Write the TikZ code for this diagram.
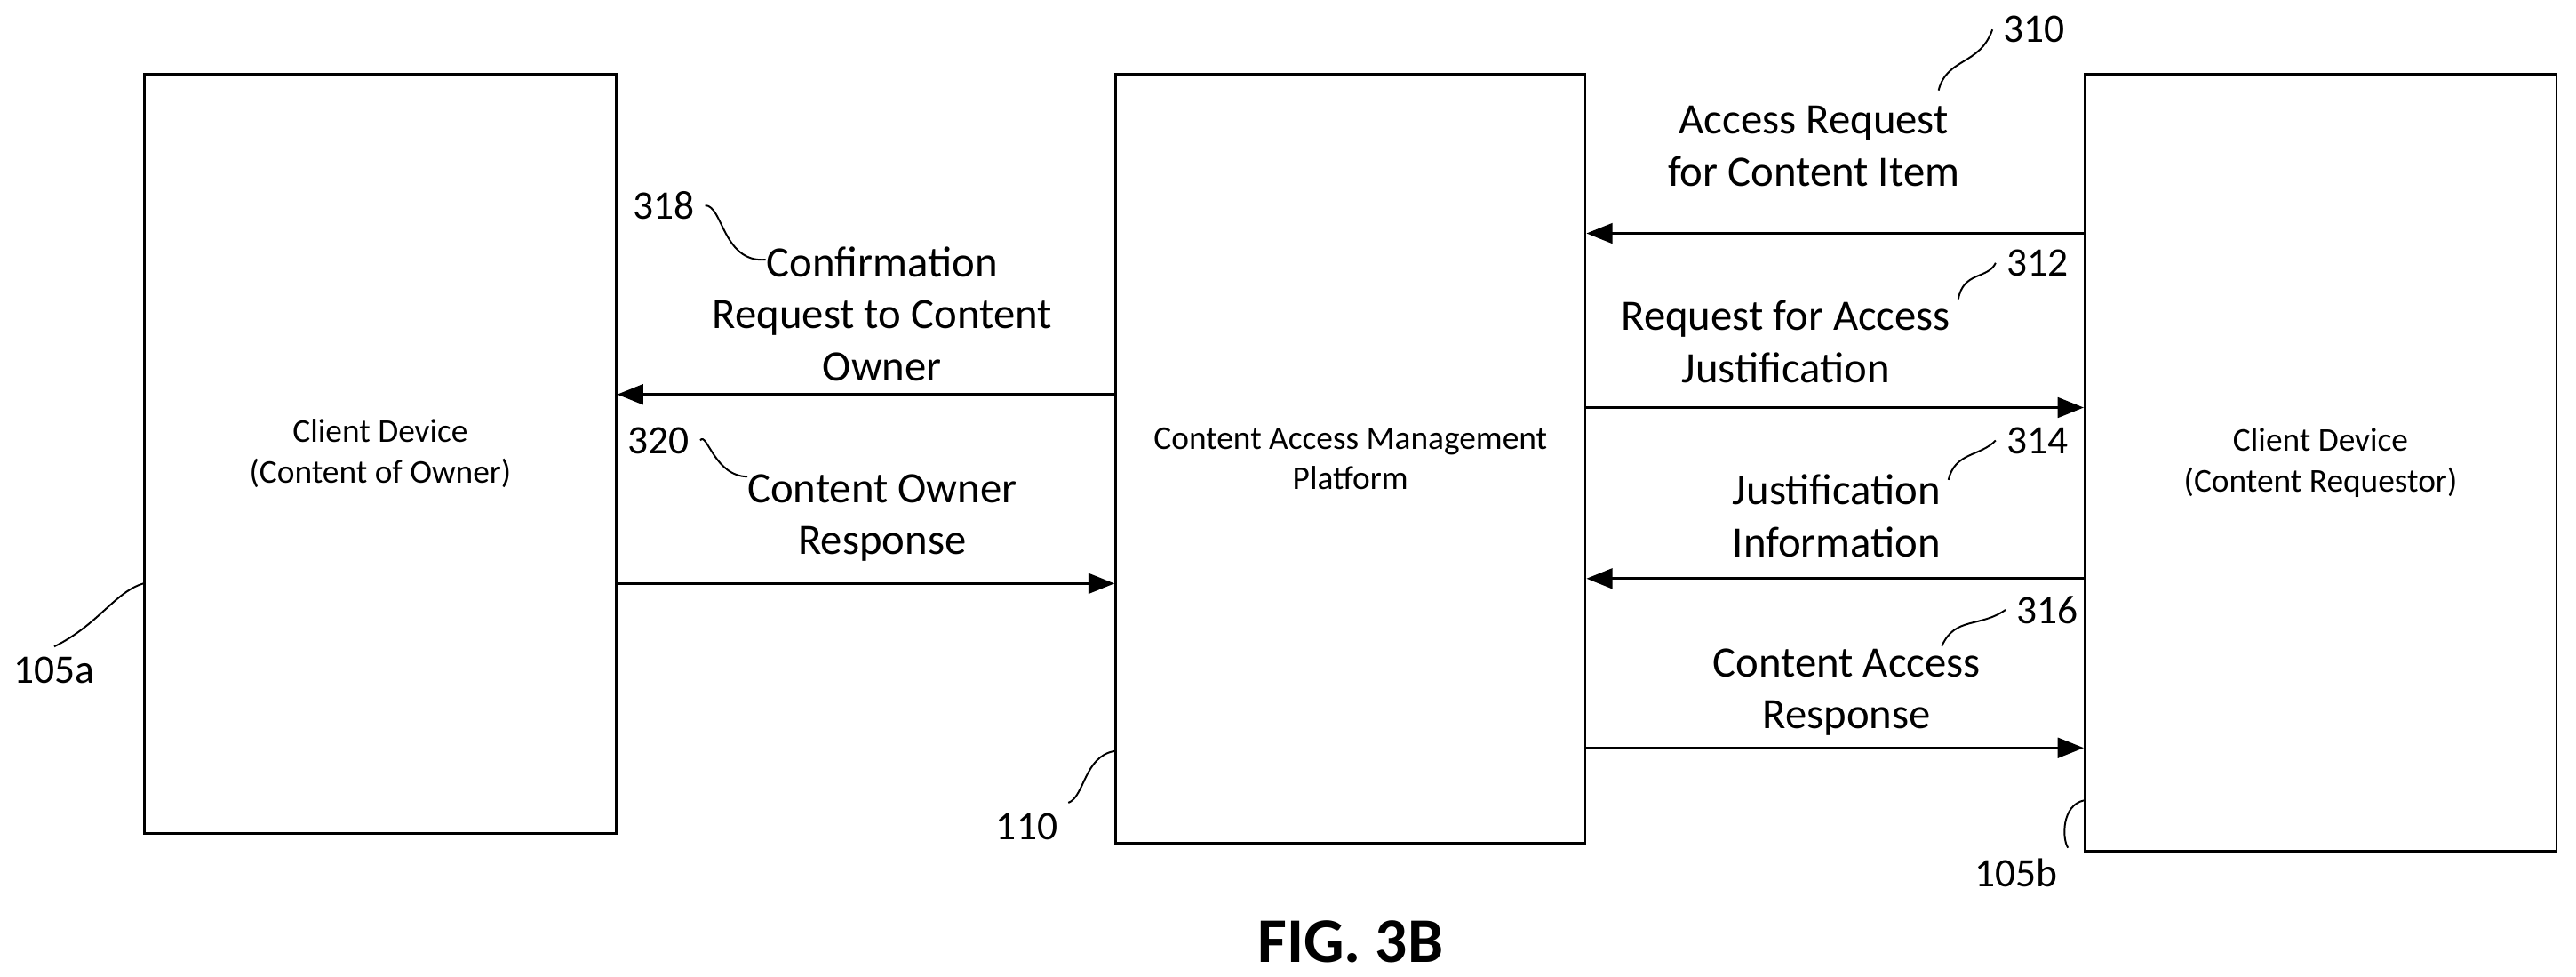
\documentclass[tikz,border=0pt]{standalone}
\usepackage{fontspec}
\setmainfont{Carlito}
\usetikzlibrary{arrows.meta}
\begin{document}
\begin{tikzpicture}[
            x = 0.02cm, y = -0.02cm, % pixel grid
            > = {Triangle[length=9pt,width=7pt]}, % arrow head style
            thick % line style
        ]

        \tikzset{
            box/.style = {draw = black, thick, inner sep = 0pt},
            msg/.style = {align = center, font = \fontsize{15}{18}\selectfont},
            ref/.style = {font = \fontsize{14}{16}\selectfont},
            lead/.style = {semithick}
        }

        \useasboundingbox (0,0) rectangle (1568,594);

        \node (owner) [box, minimum width = 5.74cm, minimum height = 9.24cm, align = center,
            font = \fontsize{11.5}{14}\selectfont] at (231.5,276) {Client Device\\(Content of Owner)};
        \node (cam) [box, minimum width = 5.72cm, minimum height = 9.36cm, align = center,
            font = \fontsize{11.5}{14}\selectfont] at (822,279) {Content Access Management\\Platform};
        \node (req) [box, minimum width = 5.74cm, minimum height = 9.46cm, align = center,
            font = \fontsize{11.5}{14}\selectfont] at (1412.5,281.5) {Client Device\\(Content Requestor)};

        % messages
        \draw[->] (req.west |- 0,142) -- (cam.east |- 0,142);
        \draw[->] (cam.east |- 0,248) -- (req.west |- 0,248);
        \draw[->] (req.west |- 0,352) -- (cam.east |- 0,352);
        \draw[->] (cam.east |- 0,455) -- (req.west |- 0,455);
        \draw[->] (cam.west |- 0,240) -- (owner.east |- 0,240);
        \draw[->] (owner.east |- 0,355) -- (cam.west |- 0,355);

        \node (m310) [msg] at (1104,89) {Access Request\\for Content Item};
        \node (m312) [msg] at (1087,208) {Request for Access\\Justification};
        \node (m314) [msg] at (1118,314) {Justification\\Information};
        \node (m316) [msg] at (1124,421) {Content Access\\Response};
        \node (m318) [msg] at (537,191) {Confirmation\\Request to Content\\Owner};
        \node (m320) [msg] at (537,315) {Content Owner\\Response};
        \node (fig) [font = \bfseries\fontsize{22}{26}\selectfont] at (822,573) {FIG. 3B};

        % reference numerals
        \node (r310) [ref] at (1238,18) {310};
        \node (r312) [ref] at (1240,160) {312};
        \node (r314) [ref] at (1240,268) {314};
        \node (r316) [ref] at (1246,371) {316};
        \node (r318) [ref] at (404,125) {318};
        \node (r320) [ref] at (401,268) {320};
        \node (r105a) [ref] at (33,408) {105a};
        \node (r110) [ref] at (625,503) {110};
        \node (r105b) [ref] at (1227,531) {105b};

        \draw[lead] (1180,55) .. controls (1185,35) and (1205,40) .. (r310.west);
        \draw[lead] (1192,182) .. controls (1195,165) and (1210,170) .. (r312.west);
        \draw[lead] (1186,292) .. controls (1190,275) and (1205,278) .. (r314.west);
        \draw[lead] (1182,393) .. controls (1190,375) and (1205,382) .. (r316.west);
        \draw[lead] (r318.east) .. controls (440,125) and (440,160) .. (466,158);
        \draw[lead] (r320.east) .. controls (430,262) and (435,290) .. (455,290);
        \draw[lead] (r105a.north) .. controls (60,380) and (70,360) .. (owner.west |- 0,355);
        \draw[lead] (r110.north east) .. controls (660,485) and (660,460) .. (cam.west |- 0,457);
        \draw[lead] (r105b.north east) .. controls (1255,510) and (1255,490) .. (req.west |- 0,487);

    \end{tikzpicture}
\end{document}
